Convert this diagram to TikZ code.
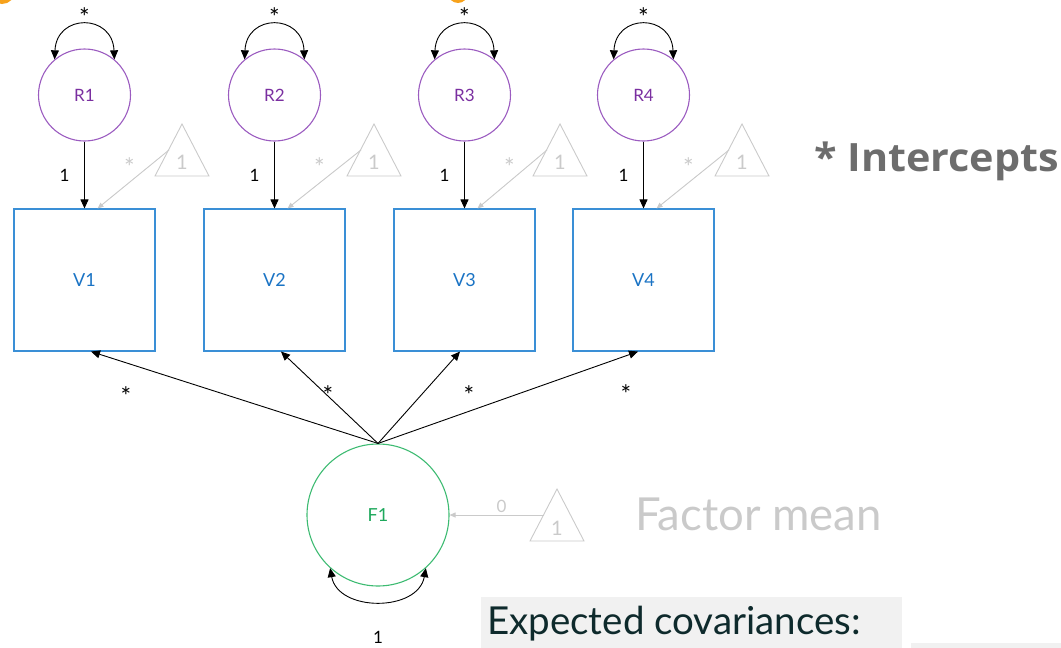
\documentclass[tikz,border=0pt]{standalone}
\usepackage{fontspec}
\setmainfont{Lato}
\newfontfamily\headfont[FakeStretch=1.06]{Open Sans}
\usetikzlibrary{arrows.meta}
\definecolor{respurple}{HTML}{9B5CC0}
\definecolor{restext}{HTML}{7A2FA0}
\definecolor{varblue}{HTML}{3A8FD6}
\definecolor{vartext}{HTML}{1A73C4}
\definecolor{facgreen}{HTML}{3DBB72}
\definecolor{factext}{HTML}{1EA85C}
\definecolor{meangray}{HTML}{CACACA}
\definecolor{titlegray}{HTML}{6D6D6D}
\definecolor{darkteal}{HTML}{0E2A2C}
\definecolor{panelgray}{HTML}{F1F1F1}
\definecolor{dotorange}{HTML}{F7A21B}
\tikzset{
  resid/.style={circle,draw=respurple,line width=1.1pt,minimum size=92pt,inner sep=0pt,
    text=restext,font=\fontsize{17}{17}\selectfont},
  obsvar/.style={rectangle,draw=varblue,line width=1.1pt,minimum width=141pt,minimum height=142pt,
    inner sep=0pt,text=vartext,font=\fontsize{18}{18}\selectfont},
  factor/.style={circle,draw=facgreen,line width=1.1pt,minimum size=142pt,inner sep=0pt,
    text=factext,font=\fontsize{18}{18}\selectfont},
  arr/.style={line width=0.9pt,-{Triangle[length=9pt,width=8pt]}},
  twoarr/.style={line width=0.9pt,{Triangle[length=9pt,width=8pt]}-{Triangle[length=9pt,width=8pt]}},
  garr/.style={draw=meangray,line width=0.9pt,-{Triangle[length=6pt,width=5pt]},fill=meangray},
  tri/.style={draw=meangray,line width=0.9pt},
  lab/.style={font=\fontsize{17}{17}\selectfont,text=black,inner sep=0pt},
  star/.style={font=\fontsize{25}{25}\selectfont,text=black,inner sep=0pt},
  gstar/.style={font=\fontsize{25}{25}\selectfont,text=meangray,inner sep=0pt},
  glab/.style={font=\fontsize{17}{17}\selectfont,text=meangray,inner sep=0pt},
  trilab/.style={font=\fontsize{20}{20}\selectfont,text=meangray,inner sep=0pt},
}
\begin{document}
\begin{tikzpicture}[x=1pt,y=-1pt]
\useasboundingbox (0,0) rectangle (1061,648);

% partially visible orange markers along the top edge
\begin{scope}
  \clip (0,0) rectangle (1061,648);
  \fill[dotorange] (2,-9) circle (13);
  \fill[dotorange] (458,-7) circle (10);
\end{scope}

% panels at the bottom
\fill[panelgray] (481,597) rectangle (902,648);
\fill[panelgray] (911,643) rectangle (1061,648);

% residual circles, observed variables and the factor
\foreach \i/\x in {1/84.5,2/274.5,3/464.5,4/643.5}{
  \node[resid] (R\i) at (\x,95) {R\i};
  \node[obsvar] (V\i) at (\x,280) {V\i};
}
\node[factor] (F1) at (378,515) {F1};

% residual variances and unit paths
\foreach \i in {1,...,4}{
  \draw[twoarr] (R\i.130) .. controls +(2,-46) and +(-2,-46) .. (R\i.50)
    coordinate[pos=0.5] (Rtop\i);
  \node[star] (Rs\i) at ([yshift=8pt]Rtop\i) {*};
  \draw[arr] (R\i) -- (V\i) coordinate[pos=0.5] (Rm\i);
  \node[lab] (Ro\i) at ([xshift=-20pt]Rm\i) {1};
}

% intercept triangles
\foreach \i/\x in {1/182,2/374,3/560,4/742}{
  \draw[tri] (\x,124) -- (\x+27,176) -- (\x-27,176) -- cycle;
  \node[trilab] (T\i) at (\x,162) {1};
  \coordinate (Ts\i) at (\x-13,150);
  \coordinate (Vi\i) at ([xshift=13pt]V\i.north);
  \draw[garr] (Ts\i) -- (Vi\i);
  \node[gstar] (Ist\i) at ([xshift=45pt,yshift=113pt]V\i.center) {*};
}

% factor loadings
\coordinate (Fo) at (F1.north);
\draw[arr] (Fo) -- ([xshift=6.5pt]V1.south);
\draw[arr] (Fo) -- ([xshift=6.5pt]V2.south);
\draw[arr] (Fo) -- ([xshift=-4.5pt]V3.south);
\draw[arr] (Fo) -- ([xshift=-5.5pt]V4.south);
\node[star] (L1) at (126,396) {*};
\node[star] (L2) at (328,395) {*};
\node[star] (L3) at (469,395) {*};
\node[star] (L4) at (626,394) {*};

% factor variance
\draw[twoarr] (F1.228) .. controls +(8,44) and +(-8,44) .. (F1.312);
\node[lab] (Fv) at (378,637) {1};

% factor mean
\draw[tri] (557,489) -- (584,541) -- (530,541) -- cycle;
\node[trilab] (TF) at (557,528) {1};
\coordinate (TFs) at (544,515);
\draw[garr] (TFs) -- (F1.east) node[glab,pos=0.45,above=2pt] (Z) {0};

% annotations
\node[anchor=base west,inner sep=0pt,text=meangray,font=\fontsize{45.5}{45.5}\selectfont] (FM) at (635,530) {Factor mean};
\node[anchor=base west,inner sep=0pt,text=titlegray,font=\headfont\bfseries\fontsize{39}{39}\selectfont] (IC) at (814,171) {* Intercepts};
\node[anchor=base west,inner sep=0pt,text=darkteal,font=\fontsize{38.5}{38.5}\selectfont] (EC) at (487,634) {Expected covariances:};
\end{tikzpicture}
\end{document}
